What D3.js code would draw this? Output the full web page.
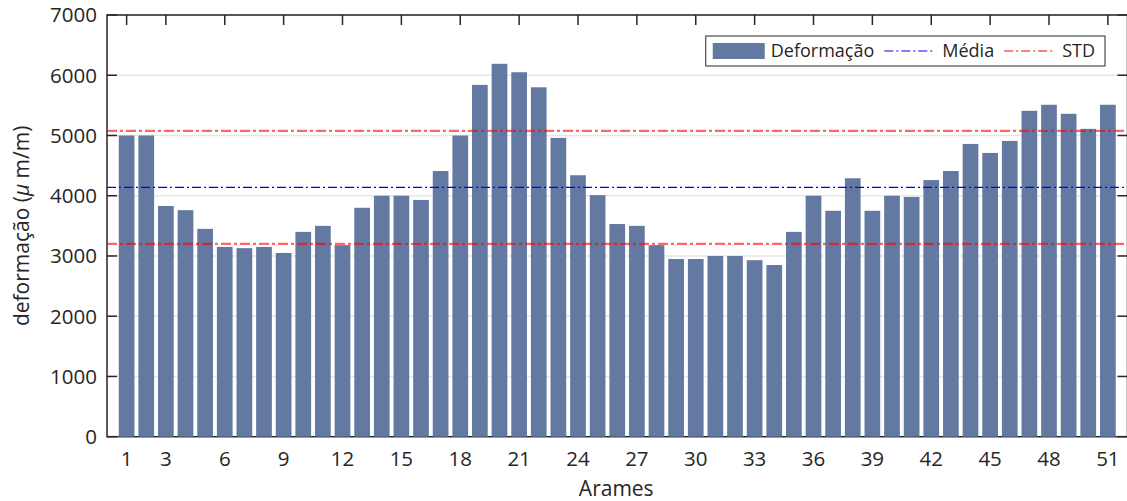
<!DOCTYPE html>
<html>
<head>
<meta charset="utf-8">
<title>Deformação por arame</title>
<style>
body { margin: 0; background: #fff; }
svg text { font-family: "Open Sans", sans-serif; fill: #262626; }
.grid line { stroke: #e6e6e6; stroke-width: 1.5px; }
.frame { fill: none; stroke: #262626; stroke-width: 1.5px; }
.tick-mark { stroke: #262626; stroke-width: 1.5px; }
.bar { fill: #6479a1; }
</style>
</head>
<body>
<script src="https://cdnjs.cloudflare.com/ajax/libs/d3/7.8.5/d3.min.js"></script>
<script>

var width = 1127,
    height = 501;

// data
var arames = [1, 2, 3, 4, 5, 6, 7, 8, 9, 10, 11, 12, 13, 14, 15, 16, 17,
              18, 19, 20, 21, 22, 23, 24, 25, 26, 27, 28, 29, 30, 31, 32, 33, 34,
              35, 36, 37, 38, 39, 40, 41, 42, 43, 44, 45, 46, 47, 48, 49, 50, 51];
var deformacao = [5000, 5000, 3830, 3760, 3450, 3150, 3130, 3150, 3050, 3400,
                  3500, 3180, 3800, 4000, 4000, 3930, 4410, 5000, 5840, 6190,
                  6050, 5800, 4960, 4340, 4010, 3530, 3500, 3180, 2950, 2950,
                  3000, 3000, 2930, 2850, 3400, 4000, 3750, 4290, 3750, 4000,
                  3980, 4260, 4410, 4860, 4710, 4910, 5410, 5510, 5360, 5110, 5510];
var xTicks = [1, 3, 6, 9, 12, 15, 18, 21, 24, 27, 30, 33, 36, 39, 42, 45, 48, 51];
var yTicks = [0, 1000, 2000, 3000, 4000, 5000, 6000, 7000];
var legendLabels = ["Deformação", "Média", "STD"];

var media = d3.mean(deformacao),
    std = d3.deviation(deformacao);

// plot box (note: "top" is a reserved window prop, so pX names)
var pLeft = 107, pRight = 1127.5, pTop = 15, pBottom = 436.7;

var x = d3.scaleLinear().domain([0, 52]).range([pLeft, pRight]);
var y = d3.scaleLinear().domain([0, 7000]).range([pBottom, pTop]);
var barW = (x(1) - x(0)) * 0.8;

var svg = d3.select("body").append("svg")
    .attr("width", width)
    .attr("height", height);

// grid first, MATLAB draws it under the data
svg.append("g").attr("class", "grid")
  .selectAll("line")
    .data(yTicks.filter(function(d) { return d > 0; }))
  .enter().append("line")
    .attr("x1", pLeft).attr("x2", pRight)
    .attr("y1", function(d) { return y(d); })
    .attr("y2", function(d) { return y(d); });

// axes box + inward ticks
svg.append("rect").attr("class", "frame")
    .attr("x", pLeft).attr("y", pTop)
    .attr("width", pRight - pLeft).attr("height", pBottom - pTop);

var tickLen = 10;
var ticks = svg.append("g");
yTicks.forEach(function(v) {
  ticks.append("line").attr("class", "tick-mark")
      .attr("x1", pLeft).attr("x2", pLeft + tickLen)
      .attr("y1", y(v)).attr("y2", y(v));
  ticks.append("line").attr("class", "tick-mark")
      .attr("x1", pRight).attr("x2", pRight - tickLen)
      .attr("y1", y(v)).attr("y2", y(v));
});
xTicks.forEach(function(v) {
  ticks.append("line").attr("class", "tick-mark")
      .attr("x1", x(v)).attr("x2", x(v))
      .attr("y1", pTop).attr("y2", pTop + tickLen);
  ticks.append("line").attr("class", "tick-mark")
      .attr("x1", x(v)).attr("x2", x(v))
      .attr("y1", pBottom).attr("y2", pBottom - tickLen);
});

// bars
svg.append("g")
  .selectAll("rect")
    .data(arames)
  .enter().append("rect")
    .attr("class", "bar")
    .attr("x", function(d) { return x(d) - barW / 2; })
    .attr("width", barW)
    .attr("y", function(d, i) { return y(deformacao[i]); })
    .attr("height", function(d, i) { return pBottom - y(deformacao[i]); });

// mean and mean +/- std
svg.append("line")
    .attr("x1", pLeft).attr("x2", pRight)
    .attr("y1", y(media)).attr("y2", y(media))
    .style("stroke", "#0000ff").style("stroke-width", 1.2)
    .style("stroke-dasharray", "9,3,2,3");

[media - std, media + std].forEach(function(v) {
  svg.append("line")
      .attr("x1", pLeft).attr("x2", pRight)
      .attr("y1", y(v)).attr("y2", y(v))
      .style("stroke", "#ff0000").style("stroke-opacity", 0.6)
      .style("stroke-width", 2.2)
      .style("stroke-dasharray", "10,3,3,3");
});

// tick labels
svg.append("g").selectAll("text")
    .data(yTicks)
  .enter().append("text")
    .attr("x", pLeft - 10)
    .attr("y", function(d) { return y(d); })
    .attr("dy", "0.36em")
    .attr("text-anchor", "end")
    .style("font-size", "20.5px")
    .text(function(d) { return d; });

svg.append("g").selectAll("text")
    .data(xTicks)
  .enter().append("text")
    .attr("x", function(d) { return x(d); })
    .attr("y", 466)
    .attr("text-anchor", "middle")
    .style("font-size", "20.5px")
    .text(function(d) { return d; });

// axis titles
svg.append("text")
    .attr("x", (pLeft + pRight) / 2 - 1)
    .attr("y", 496)
    .attr("text-anchor", "middle")
    .style("font-size", "21px")
    .text("Arames");

var yl = svg.append("text")
    .attr("transform", "translate(29," + ((pTop + pBottom) / 2) + ")rotate(-90)")
    .attr("text-anchor", "middle")
    .style("font-size", "21px");
yl.append("tspan").text("deformação (");
yl.append("tspan").style("font-style", "italic").text("μ");
yl.append("tspan").text(" m/m)");

// legend
var leg = svg.append("g");
var legBox = leg.append("rect")
    .attr("y", 36).attr("height", 30)
    .style("fill", "#fff").style("stroke", "#262626").style("stroke-width", 1);

var cx = 0, legY = 51;
var items = leg.append("g");
legendLabels.forEach(function(lbl, i) {
  if (i === 0) {
    items.append("rect").attr("class", "bar")
        .attr("x", cx).attr("y", legY - 8).attr("width", 52).attr("height", 16);
  } else {
    items.append("line")
        .attr("x1", cx).attr("x2", cx + 51)
        .attr("y1", legY).attr("y2", legY)
        .style("stroke", i === 1 ? "#0000ff" : "#ff0000")
        .style("stroke-width", 1.2)
        .style("stroke-dasharray", "9,3,2,3");
  }
  var t = items.append("text")
      .attr("x", cx + 58)
      .attr("y", legY)
      .attr("dy", "0.36em")
      .style("font-size", "18px")
      .text(lbl);
  cx += 58 + t.node().getComputedTextLength() + 10;
});
var legRight = 1105, innerW = cx - 10;
var legLeft = legRight - (innerW + 17);
items.attr("transform", "translate(" + (legLeft + 7) + ",0)");
legBox.attr("x", legLeft).attr("width", legRight - legLeft);

</script>
</body>
</html>
